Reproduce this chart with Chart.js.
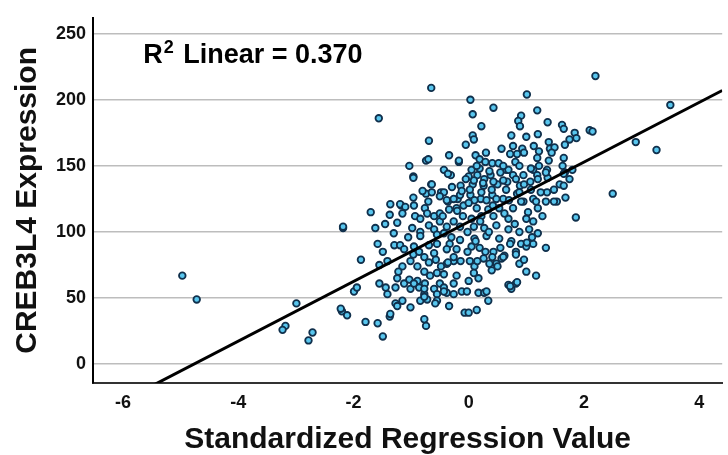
<!DOCTYPE html>
<html>
<head>
<meta charset="utf-8">
<script src="https://cdn.jsdelivr.net/npm/chart.js@4"></script>
<style>
  html, body { margin: 0; padding: 0; background: #fff; }
</style>
</head>
<body>
<canvas id="myChart" width="728" height="455"></canvas>
<script>
// standardized regression value (x) and CREB3L4 expression (y)
var regValue = [
  -4.97, -4.72, -2.99, -3.18, -3.23, -2.71, -2.78, -2.2, -2.11, -1.99, -1.94, -1.87, -2.18, -2.22,
  2.2, 3.5, 2.9, 3.26, 2.5, 1.86,
  -0.65, -1.56, -0.69, -0.05, -0.34, -0.74, -0.17, -1.03, -0.43,
  0.03, 1.01, 0.07, 0.43, 1.19, 0.91, 0.86, 0.89, 0.22, 1.37, 1.62, 1.65, 0.07, 1.0, 1.2, 1.84, 1.87, 2.1, 2.15,
  1.75, 1.67, 1.39, 0.74, 0.77, 0.57, 0.93, 1.13, 1.41, 1.49, 0.72, 0.84, 0.96, 1.22, 1.44, 0.12, 0.19, 0.29,
  0.41, 0.52, 0.81, 0.88, 1.19, 1.22, 1.39, 1.65, 1.63, 0.19, 0.65, 1.12,
  1.36, 1.19, 0.77, 0.55, 0.38, 0.15, 0.07, 0.26, 0.5, 0.67, 0.89, 1.07, 1.37, 1.58, 1.67, 1.8, 1.75,
  0.03, 0.21, 0.41, 0.6, 0.84, 0.95, 1.12, 1.36, 1.53, -0.14, -0.19, -0.36, -0.48, -0.31, -0.17, 0.09,
  -0.7, -0.96, -1.17, -0.65, -0.74,
  -0.36, -0.96, -0.64, -0.64, -0.43, -0.29, -0.5, -0.38, -0.26, -0.15, -0.96, -1.36, -1.19, -1.1, -0.95,
  -0.76, -1.7, -1.37, -1.15, -0.93, -0.84, -0.72, -0.6, -0.5, -0.34, -0.21, -0.09, -2.18, -1.62, -1.24,
  -0.98, -0.84, -0.69, -0.6, -0.5, -0.38, -0.26, -0.15, -0.84, -0.55, -0.43, -1.58, -1.49, -1.29, -1.19,
  -0.95, -0.69, -0.55, -0.33, -0.15, -0.38, -0.21,
  0.05, 0.69, 1.08, 1.34, 1.65, 0.09, 0.27, 0.43, 0.6, 0.82, 0.96, 1.2, 1.65, 1.48, 1.25, 0.02, 0.22, 0.4,
  0.65, 0.88, 1.08, 0.1, 0.31, 0.48, 0.7, 0.91, 1.17, 1.34, 1.48, 1.68, 0.14, 0.34, 0.53, 0.77, 1.03, 1.2,
  0.05, 0.22, 0.43, 0.69, 1.12, 0.09, 0.27, 0.48, 0.69, 0.88, 1.05, 1.2, 0.1, 0.31, 0.53, 0.74, 0.91, 1.0,
  1.12, 0.05, 0.19, 0.43, 1.34, 0.82,
  -1.55, -1.41, -1.15, -1.01, -0.89, -1.55, -1.44, -1.41, -1.27, -1.24, -1.12, -1.03, -0.89, -0.76, -0.86,
  -1.01, -0.77, -0.6, -0.55, -0.38, -0.26, -0.55, -0.84, -0.72, -1.27, -1.15, -1.24, -1.01, -0.58, -0.34,
  -0.12, -0.07, -1.79, -1.58, -1.37, -1.36, -1.49, -0.77, -0.74, -0.38, -0.26, -0.55, -0.43, -0.67, -0.77,
  -0.21, -0.26, -0.5, -0.43,
  0.02, 0.1, 0.09, 0.17, 0.0, 0.26, 0.36, 0.4, 0.48, 0.57, 0.62, 0.82, 0.88, 0.96, 1.0, 1.17, 0.69, 0.74,
  0.82, -0.03, 0.17, 0.27, 0.34, 0.0, 0.14,
  -1.12, -0.96, -0.86, -0.77, -0.69, -0.57, -0.48, -0.36, -0.26, -0.14, -0.02, 0.15, 0.29, 0.41, 0.5, 0.6,
  0.72, 1.01, 1.1, -1.22, -0.95, -0.77, -0.43, -0.77, 0.31, 0.72, 0.84,
  // dense core
  0.0, 0.14, 0.36, 0.6, 0.3, -0.05, -0.1, -0.02, -0.12, 0.0, -0.3, -0.45, -0.7, -0.8, -1.3, -1.45, -1.05,
  0.2, 0.42, 0.62, 0.8, 1.0, 0.35, 0.55, 0.12, -0.2, -0.6, 0.95, 1.28, 0.25
];
var expression = [
  67, 49, 46, 29, 26, 24, 18, 40, 37, 55, 58, 79, 103, 42,
  218, 196, 168, 162, 129, 111,
  209, 186, 169, 166, 158, 154, 153, 150, 147,
  200, 204, 189, 194, 192, 188, 184, 180, 180, 183, 181, 178, 173, 172, 174, 175, 171, 177, 176,
  170, 166, 168, 173, 165, 163, 163, 165, 163, 164, 159, 159, 160, 161, 160, 158, 155, 153,
  152, 152, 153, 150, 156, 150, 154, 156, 150, 148, 147, 147,
  147, 143, 143, 145, 143, 143, 136, 135, 136, 138, 135, 138, 141, 136, 145, 147, 140,
  128, 125, 128, 125, 129, 123, 125, 130, 123, 135, 125, 123, 130, 143, 154, 170,
  155, 142, 120, 136, 129,
  144, 141, 136, 130, 130, 134, 127, 124, 125, 128, 126, 121, 121, 119, 120,
  118, 115, 113, 114, 112, 110, 114, 112, 114, 117, 118, 120, 104, 103, 107,
  103, 100, 105, 102, 108, 104, 108, 104, 97, 98, 99, 91, 85, 90, 90,
  89, 90, 91, 91, 94, 87, 87,
  147, 147, 148, 145, 144, 139, 140, 138, 139, 140, 136, 140, 135, 132, 130, 132, 130, 132,
  132, 130, 132, 124, 124, 125, 124, 123, 123, 123, 123, 126, 118, 117, 118, 118, 115, 118,
  110, 112, 112, 110, 108, 104, 103, 105, 102, 100, 102, 99, 95, 97, 95, 93, 91, 89,
  91, 89, 88, 85, 88, 85,
  75, 78, 74, 78, 74, 61, 58, 53, 58, 65, 61, 64, 63, 61, 58,
  57, 53, 57, 53, 54, 53, 48, 48, 49, 46, 48, 44, 43, 46, 44,
  55, 39, 32, 31, 36, 38, 21, 34, 29, 76, 78, 69, 68, 67, 70,
  67, 61, 61, 58,
  78, 74, 69, 65, 63, 80, 76, 71, 76, 80, 82, 83, 76, 79, 70, 67, 60, 57,
  61, 55, 54, 54, 48, 39, 41,
  87, 83, 85, 81, 77, 79, 74, 77, 81, 78, 85, 78, 85, 81, 74, 81,
  91, 92, 96, 70, 61, 57, 55, 51, 55, 59, 62,
  142, 150, 146, 150, 160, 140, 112, 100, 131, 122, 96, 112, 123, 131, 99, 106, 96,
  108, 120, 114, 106, 110, 100, 88, 93, 116, 84, 143, 112, 137
];

// fit line and axis layout
var fitIntercept = 107.7;
var fitSlope = 22.57;
var rSquared = '0.370';
var xRange = [-6.52, 4.40];
var yRange = [-14.2, 262];
var xTicks = [-6, -4, -2, 0, 2, 4];
var yTicks = [0, 50, 100, 150, 200, 250];

var fontFamily = '"Liberation Sans", Arial, sans-serif';

var points = regValue.map(function (v, i) { return { x: v, y: expression[i] }; });
var fitLine = xRange.map(function (v) { return { x: v, y: fitIntercept + fitSlope * v }; });

var rLabel = {
  id: 'rLabel',
  afterDraw: function (chart) {
    var ctx = chart.ctx;
    var x0 = chart.scales.x.getPixelForValue(-5.65);
    var y0 = chart.scales.y.getPixelForValue(227.5);
    ctx.save();
    ctx.fillStyle = '#000';
    ctx.textBaseline = 'alphabetic';
    ctx.font = 'bold 27px ' + fontFamily;
    ctx.fillText('R', x0, y0);
    var w = ctx.measureText('R').width;
    ctx.font = 'bold 18px ' + fontFamily;
    ctx.fillText('2', x0 + w + 1, y0 - 10);
    var w2 = ctx.measureText('2').width;
    ctx.font = 'bold 27px ' + fontFamily;
    ctx.fillText(' Linear = ' + rSquared, x0 + w + w2 + 3, y0);
    ctx.restore();
  }
};

var ctx = document.getElementById('myChart').getContext('2d');
var myChart = new Chart(ctx, {
  type: 'scatter',
  data: {
    datasets: [{
      type: 'line',
      data: fitLine,
      borderColor: '#000',
      borderWidth: 3,
      pointRadius: 0,
      fill: false,
      order: 0
    }, {
      data: points,
      backgroundColor: '#58c6ee',
      borderColor: '#10304c',
      borderWidth: 1.8,
      pointRadius: 3.3,
      order: 1
    }]
  },
  options: {
    responsive: false,
    animation: false,
    layout: { padding: { top: 13, right: 0, left: 0, bottom: 0 } },
    plugins: {
      legend: { display: false },
      tooltip: { enabled: false }
    },
    scales: {
      x: {
        type: 'linear',
        min: xRange[0],
        max: xRange[1],
        afterBuildTicks: function (axis) { axis.ticks = xTicks.map(function (v) { return { value: v }; }); },
        afterFit: function (axis) { axis.height = 72; },
        grid: { display: false, drawTicks: false },
        border: { display: true, color: '#333', width: 2 },
        ticks: { color: '#111', padding: 9, font: { family: fontFamily, size: 18, weight: 'bold' } },
        title: {
          display: true,
          text: 'Standardized Regression Value',
          color: '#111',
          padding: { top: 0, bottom: 0 },
          font: { family: fontFamily, size: 30, weight: 'bold', lineHeight: 1 }
        }
      },
      y: {
        min: yRange[0],
        max: yRange[1],
        afterBuildTicks: function (axis) { axis.ticks = yTicks.map(function (v) { return { value: v }; }); },
        afterFit: function (axis) { axis.width = 93; },
        grid: { color: '#bdbdbd', lineWidth: 1.5, drawTicks: false },
        border: { display: true, color: '#000', width: 2 },
        ticks: { color: '#111', padding: 7, font: { family: fontFamily, size: 18, weight: 'bold' } },
        title: {
          display: true,
          text: 'CREB3L4 Expression',
          color: '#111',
          padding: { top: 13, bottom: 0 },
          font: { family: fontFamily, size: 30, weight: 'bold', lineHeight: 1 }
        }
      }
    }
  },
  plugins: [rLabel]
});
</script>
</body>
</html>
